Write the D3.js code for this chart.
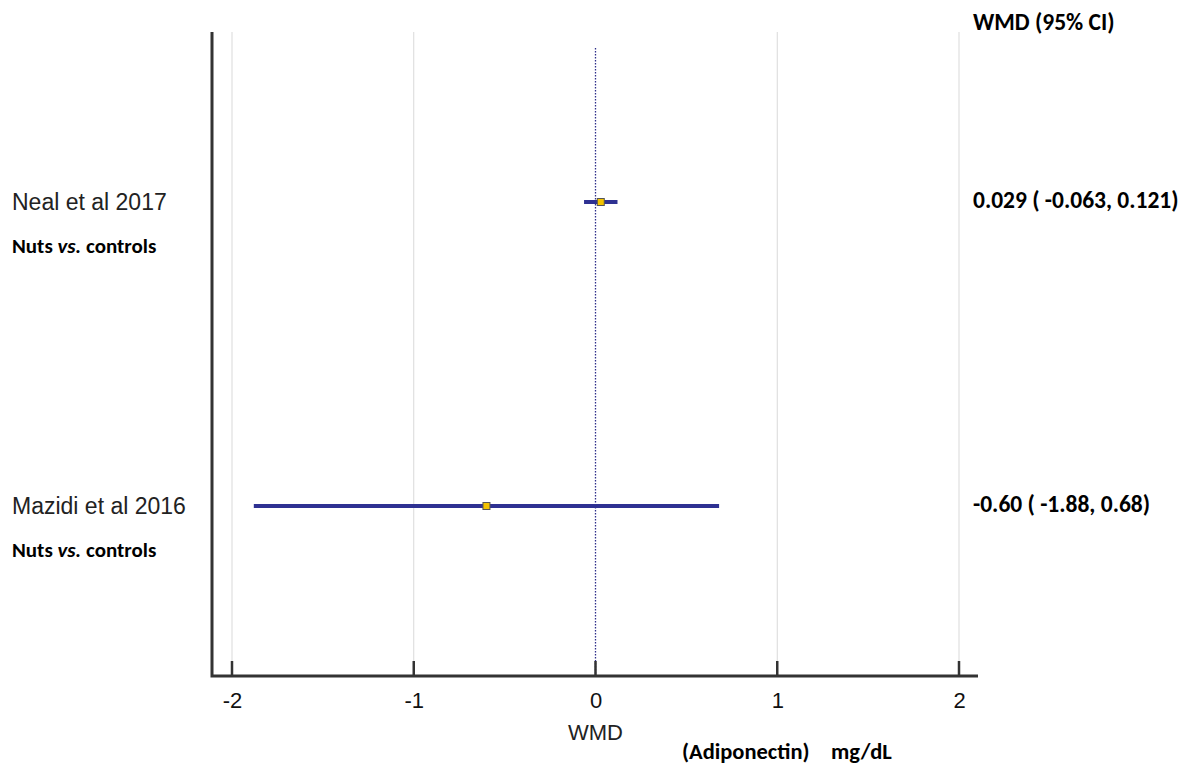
<!DOCTYPE html>
<html>
<head>
<meta charset="utf-8">
<script src="https://cdn.jsdelivr.net/npm/d3@7"></script>
<style>
  html, body { margin: 0; padding: 0; background: #fff; }
  svg { display: block; }
</style>
</head>
<body>
<svg id="chart" width="1193" height="767"></svg>
<script>
// Studies, effect estimates and 95% confidence limits
const studies = ["Neal et al 2017", "Mazidi et al 2016"];
const subgroups = ["Nuts vs. controls", "Nuts vs. controls"];
const wmd = [0.029, -0.60];
const lower = [-0.063, -1.88];
const upper = [0.121, 0.68];
const ciLabels = ["0.029 ( -0.063, 0.121)", "-0.60 ( -1.88, 0.68)"];
const xTicks = [-2, -1, 0, 1, 2];

const svg = d3.select("#chart");

const plotLeft = 212, plotRight = 978, plotTop = 32, plotBottom = 676;
const sansFont = "Liberation Sans, Arial, sans-serif";
const boldFont = "Carlito, Lato, sans-serif";

const x = d3.scaleLinear().domain([-2, 2]).range([232, 959]);
const y = d3.scalePoint().domain(studies).range([202, 506]);

// vertical gridlines
svg.append("g").selectAll("line")
  .data(xTicks.filter(t => t !== 0))
  .join("line")
  .attr("x1", d => x(d)).attr("x2", d => x(d))
  .attr("y1", plotTop).attr("y2", plotBottom)
  .attr("stroke", "#d9d9d9").attr("stroke-width", 1);

// line of no effect
svg.append("line")
  .attr("x1", x(0)).attr("x2", x(0))
  .attr("y1", 48).attr("y2", plotBottom)
  .attr("stroke", "#2e2e8a").attr("stroke-width", 1.3)
  .attr("stroke-dasharray", "1.5,1.5");

// bottom axis
const axis = d3.axisBottom(x).tickValues(xTicks).tickSize(0).tickPadding(0)
  .tickFormat(d3.format("d"));
const gx = svg.append("g").attr("transform", `translate(0,${plotBottom})`).call(axis);
gx.select(".domain").remove();
gx.selectAll("text")
  .attr("y", 24).attr("dy", "0.35em")
  .attr("font-family", sansFont)
  .attr("font-size", 22).attr("fill", "#111")
  .text(d => d < 0 ? "-" + Math.abs(d) : d);

// inward tick marks
svg.append("g").selectAll("line")
  .data(xTicks).join("line")
  .attr("x1", d => x(d)).attr("x2", d => x(d))
  .attr("y1", plotBottom - 15).attr("y2", plotBottom)
  .attr("stroke", "#333").attr("stroke-width", 2.5);

// frame: left spine and baseline
svg.append("path")
  .attr("d", `M${plotLeft},${plotTop} V${plotBottom} H${plotRight}`)
  .attr("fill", "none").attr("stroke", "#333").attr("stroke-width", 3);

// confidence intervals
svg.append("g").selectAll("line")
  .data(studies).join("line")
  .attr("x1", (d, i) => x(lower[i])).attr("x2", (d, i) => x(upper[i]))
  .attr("y1", d => y(d)).attr("y2", d => y(d))
  .attr("stroke", "#2e3192").attr("stroke-width", 4);

// point estimates
svg.append("g").selectAll("rect")
  .data(studies).join("rect")
  .attr("x", (d, i) => x(wmd[i]) - 3.5).attr("y", d => y(d) - 3.5)
  .attr("width", 7).attr("height", 7)
  .attr("fill", "#f2c200").attr("stroke", "#555").attr("stroke-width", 1);

// study names
svg.append("g").selectAll("text")
  .data(studies).join("text")
  .attr("x", 12).attr("y", d => y(d) + 8)
  .attr("font-family", sansFont)
  .attr("font-size", 23).attr("fill", "#222")
  .text(d => d);

// subgroup labels with italic "vs."
const sub = svg.append("g").selectAll("text")
  .data(studies).join("text")
  .attr("x", 12).attr("y", d => y(d) + 51)
  .attr("font-family", boldFont)
  .attr("font-size", 21).attr("font-weight", "bold").attr("fill", "#000");
sub.each(function(d, i) {
  const parts = subgroups[i].split(" vs. ");
  const t = d3.select(this);
  t.append("tspan").text(parts[0] + " ");
  t.append("tspan").attr("font-style", "italic").text("vs.");
  t.append("tspan").text(" " + parts[1]);
});

// estimate column
svg.append("text")
  .attr("x", 973).attr("y", 30)
  .attr("font-family", boldFont)
  .attr("font-size", 23.5).attr("font-weight", "bold").attr("fill", "#000")
  .text("WMD (95% CI)");

svg.append("g").selectAll("text")
  .data(studies).join("text")
  .attr("x", 973).attr("y", (d, i) => y(d) + 6)
  .attr("font-family", boldFont)
  .attr("font-size", 23.5).attr("font-weight", "bold").attr("fill", "#000")
  .text((d, i) => ciLabels[i]);

// axis titles
svg.append("text")
  .attr("x", x(0)).attr("y", 740).attr("text-anchor", "middle")
  .attr("font-family", sansFont)
  .attr("font-size", 22).attr("fill", "#222")
  .text("WMD");

const unitTitle = svg.append("g")
  .attr("font-family", boldFont)
  .attr("font-size", 22.5).attr("font-weight", "bold").attr("fill", "#000");
unitTitle.append("text").attr("x", 682).attr("y", 759).text("(Adiponectin)");
unitTitle.append("text").attr("x", 831).attr("y", 759).text("mg/dL");
</script>
</body>
</html>
